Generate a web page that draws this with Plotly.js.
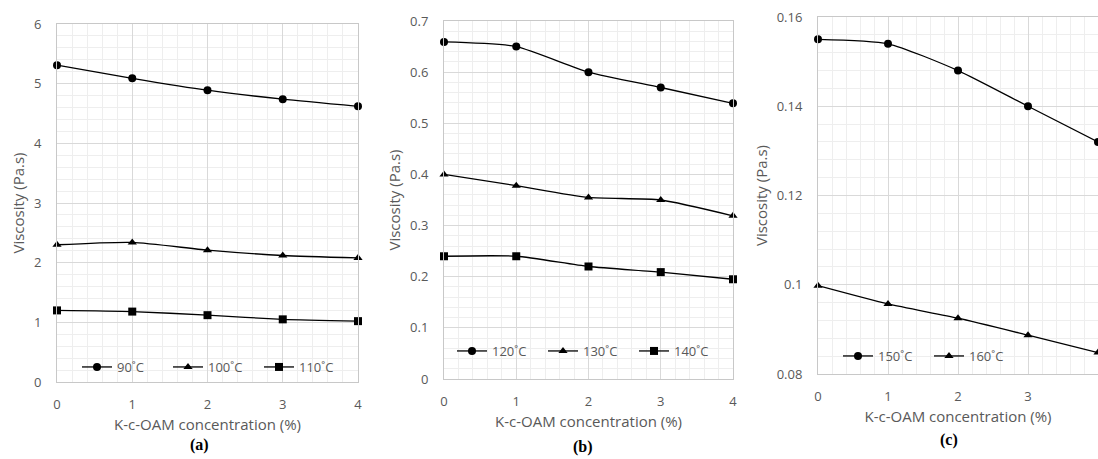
<!DOCTYPE html>
<html>
<head>
<meta charset="utf-8">
<script src="https://cdn.plot.ly/plotly-3.0.1.min.js"></script>
<style>html,body{margin:0;padding:0;background:#fff;}#chart{width:1098px;height:459px;}</style>
</head>
<body>
<div id="chart"></div>
<script>
// Concentration of K-c-OAM (%)
const concentration = [0, 1, 2, 3, 4];

// Panel (a)
const labelsA = ["90˚C", "100˚C", "110˚C"];
const visc90 = [5.31, 5.09, 4.89, 4.74, 4.62];
const visc100 = [2.30, 2.34, 2.21, 2.12, 2.08];
const visc110 = [1.20, 1.18, 1.12, 1.05, 1.02];

// Panel (b)
const labelsB = ["120˚C", "130˚C", "140˚C"];
const visc120 = [0.659, 0.650, 0.600, 0.570, 0.539];
const visc130 = [0.400, 0.378, 0.355, 0.350, 0.319];
const visc140 = [0.240, 0.240, 0.220, 0.209, 0.195];

// Panel (c)
const labelsC = ["150˚C", "160˚C"];
const visc150 = [0.155, 0.154, 0.148, 0.140, 0.132];
const visc160 = [0.0998, 0.0957, 0.0925, 0.0887, 0.0848];

const panelLabels = ["(a)", "(b)", "(c)"];
const xTitle = "K-c-OAM concentration (%)";
const yTitle = "Viscosity (Pa.s)";

const W = 1098, H = 459;
const FONT = "Open Sans, Noto Sans, sans-serif";
const GRAY = "#595959";

function tr(y, name, symbol, xa, ya, leg) {
  return {
    x: concentration, y: y, name: name, type: "scatter", mode: "lines+markers",
    xaxis: xa, yaxis: ya, legend: leg,
    line: {color: "#000", width: 1.3, shape: "spline", smoothing: 0.6},
    marker: {color: "#000", size: 8, symbol: symbol},
    cliponaxis: false
  };
}

const data = [
  tr(visc90, labelsA[0], "circle", "x", "y", "legend"),
  tr(visc100, labelsA[1], "triangle-up", "x", "y", "legend"),
  tr(visc110, labelsA[2], "square", "x", "y", "legend"),
  tr(visc120, labelsB[0], "circle", "x2", "y2", "legend2"),
  tr(visc130, labelsB[1], "triangle-up", "x2", "y2", "legend2"),
  tr(visc140, labelsB[2], "square", "x2", "y2", "legend2"),
  tr(visc150, labelsC[0], "circle", "x3", "y3", "legend3"),
  tr(visc160, labelsC[1], "triangle-up", "x3", "y3", "legend3")
];

function px(x) { return x / W; }
function py(y) { return 1 - y / H; }

function xaxis(l, r, anchor) {
  return {
    domain: [px(l), px(r)], anchor: anchor, range: [0, 4], dtick: 1, tick0: 0,
    showgrid: true, gridcolor: "#d9d9d9", gridwidth: 1,
    minor: {dtick: 0.2, showgrid: true, gridcolor: "#eeeeee", gridwidth: 1},
    showline: true, linecolor: "#c8c8c8", linewidth: 1, mirror: true,
    zeroline: false, ticks: "", ticklabelstandoff: 10,
    tickfont: {family: FONT, size: 13, color: GRAY},
    title: {text: xTitle, font: {family: FONT, size: 15, color: GRAY}, standoff: 7},
    fixedrange: true
  };
}
function yaxis(t, b, anchor, range, dtick, mdtick) {
  return {
    domain: [py(b), py(t)], anchor: anchor, range: range, dtick: dtick, tick0: 0,
    showgrid: true, gridcolor: "#d9d9d9", gridwidth: 1,
    minor: {dtick: mdtick, showgrid: true, gridcolor: "#eeeeee", gridwidth: 1},
    showline: true, linecolor: "#c8c8c8", linewidth: 1, mirror: true,
    zeroline: false, ticks: "", ticklabelstandoff: 12,
    tickfont: {family: FONT, size: 13, color: GRAY},
    title: {text: yTitle, font: {family: FONT, size: 15, color: GRAY}, standoff: 5},
    fixedrange: true
  };
}

function legend(x, y, ew) {
  return {
    x: x, y: y, xanchor: "left", yanchor: "middle", orientation: "h",
    bgcolor: "rgba(0,0,0,0)", borderwidth: 0,
    font: {family: FONT, size: 13, color: GRAY},
    entrywidth: ew, entrywidthmode: "pixels", itemwidth: 30
  };
}

const layout = {
  width: W, height: H,
  margin: {l: 0, r: 0, t: 0, b: 0},
  paper_bgcolor: "#fff", plot_bgcolor: "#fff",
  showlegend: true,
  xaxis: xaxis(57, 358, "y"),
  yaxis: yaxis(24, 382, "x", [0, 6], 1, 0.2),
  xaxis2: xaxis(444, 733, "y2"),
  yaxis2: yaxis(21, 379, "x2", [0, 0.7], 0.1, 0.02),
  xaxis3: xaxis(818, 1098, "y3"),
  yaxis3: yaxis(17, 374, "x3", [0.08, 0.16], 0.02, 0.004),
  legend: legend(px(77), py(367), 46),
  legend2: legend(px(452), py(351), 46),
  legend3: legend(px(838), py(356), 46),
  annotations: [
    {text: "<b>" + panelLabels[0] + "</b>", x: px(199), y: py(445)},
    {text: "<b>" + panelLabels[1] + "</b>", x: px(583), y: py(447)},
    {text: "<b>" + panelLabels[2] + "</b>", x: px(949), y: py(440)}
  ].map(a => Object.assign(a, {xref: "paper", yref: "paper", showarrow: false,
    xanchor: "center", yanchor: "middle",
    font: {family: "Liberation Serif, Times New Roman, serif", size: 16, color: "#000"}}))
};

Plotly.newPlot("chart", data, layout, {staticPlot: true, displayModeBar: false});
</script>
</body>
</html>
